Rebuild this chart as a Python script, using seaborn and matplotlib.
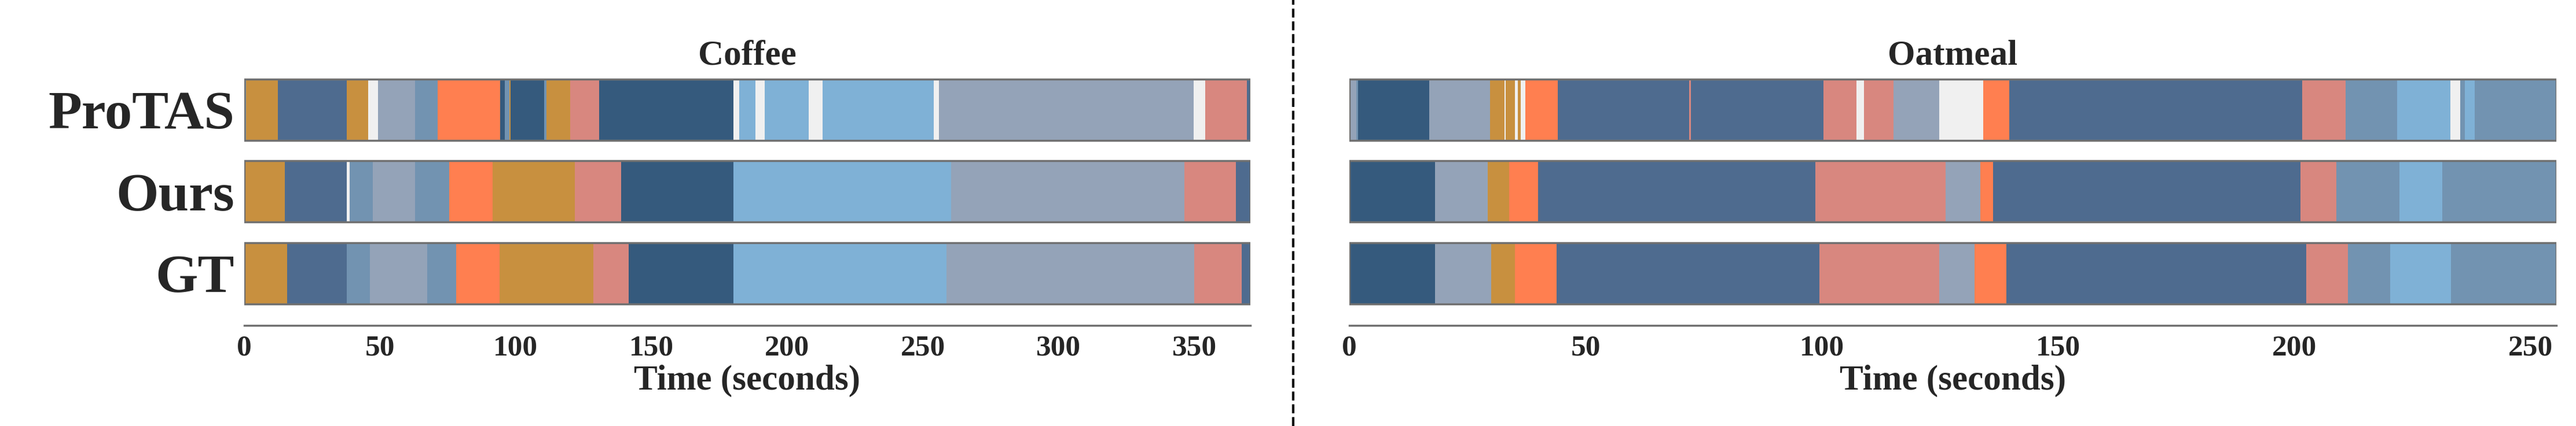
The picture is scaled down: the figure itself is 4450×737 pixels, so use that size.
import matplotlib
matplotlib.use('Agg')
import matplotlib.pyplot as plt
import seaborn as sns
from matplotlib.lines import Line2D

sns.set_style('white')
plt.rcParams['font.family'] = ['Liberation Serif', 'DejaVu Serif']
plt.rcParams['font.weight'] = 'bold'

# Action colours
palette = {
    'pour': '#c8903f', 'stir': '#4e6b8f', 'take': '#355a7d', 'open': '#7293b1',
    'scoop': '#94a3b8', 'add': '#ff7f50', 'put': '#d8877f', 'fold': '#7fb1d6',
    'bg': '#f0f0f0',
}

rows = ['ProTAS', 'Ours', 'GT']

# Coffee: segment end times (s) and action of each segment
coffee_protas_ends = [0.7, 12.3, 37.7, 45.6, 49.3, 62.9, 71.3, 94.3, 95.9, 97.7, 98.1, 110.5, 111.3, 120.0,
                      130.7, 180.3, 182.3, 188.2, 191.7, 207.9, 213.0, 253.9, 255.9, 349.7, 353.9, 369.4, 370.6]
coffee_protas_acts = ['open', 'pour', 'stir', 'pour', 'bg', 'scoop', 'open', 'add', 'take', 'open', 'pour', 'take', 'open', 'pour',
                      'put', 'take', 'bg', 'fold', 'bg', 'fold', 'bg', 'fold', 'bg', 'scoop', 'bg', 'put', 'stir']
coffee_ours_ends = [15.0, 37.7, 38.8, 47.3, 63.0, 75.5, 91.4, 121.8, 138.8, 180.3, 260.4, 346.2, 365.2, 370.6]
coffee_ours_acts = ['pour', 'stir', 'bg', 'open', 'scoop', 'open', 'add', 'pour', 'put', 'take', 'fold', 'scoop', 'put', 'stir']
coffee_gt_ends = [15.9, 37.7, 46.4, 67.4, 78.0, 94.1, 128.7, 141.5, 180.3, 258.6, 349.9, 367.5, 370.6]
coffee_gt_acts = ['pour', 'stir', 'open', 'scoop', 'open', 'add', 'pour', 'put', 'take', 'fold', 'scoop', 'put', 'stir']

# Oatmeal
oat_protas_ends = [1.5, 1.9, 16.9, 29.8, 32.9, 33.1, 35.1, 35.7, 36.3, 37.2, 44.1, 71.9, 72.3, 100.3, 107.3,
                   108.9, 115.2, 124.8, 134.2, 139.7, 201.7, 210.8, 221.7, 233.0, 235.1, 236.1, 238.1, 255.4]
oat_protas_acts = ['scoop', 'open', 'take', 'scoop', 'pour', 'bg', 'pour', 'bg', 'pour', 'bg', 'add', 'stir', 'put', 'stir', 'put',
                   'bg', 'put', 'scoop', 'bg', 'add', 'stir', 'put', 'open', 'fold', 'bg', 'open', 'fold', 'open']
oat_ours_ends = [18.2, 29.3, 33.8, 39.9, 98.6, 126.2, 133.6, 136.2, 201.3, 208.9, 222.2, 231.3, 255.4]
oat_ours_acts = ['take', 'scoop', 'pour', 'add', 'stir', 'put', 'scoop', 'add', 'stir', 'put', 'open', 'fold', 'open']
oat_gt_ends = [18.2, 30.0, 35.0, 43.9, 99.5, 124.9, 132.3, 139.0, 202.5, 211.3, 220.3, 233.1, 255.4]
oat_gt_acts = ['take', 'scoop', 'pour', 'add', 'stir', 'put', 'scoop', 'add', 'stir', 'put', 'open', 'fold', 'open']

panels = [
    ('Coffee', [(coffee_protas_ends, coffee_protas_acts), (coffee_ours_ends, coffee_ours_acts),
                (coffee_gt_ends, coffee_gt_acts)], [0, 50, 100, 150, 200, 250, 300, 350]),
    ('Oatmeal', [(oat_protas_ends, oat_protas_acts), (oat_ours_ends, oat_ours_acts),
                 (oat_gt_ends, oat_gt_acts)], [0, 50, 100, 150, 200, 250]),
]

fig = plt.figure(figsize=(44.5, 7.37), dpi=100)
axes = [fig.add_axes([0.0948, 0.236, 0.3906, 0.586]),
        fig.add_axes([0.5238, 0.236, 0.4685, 0.586])]

for ax, (title, segs, ticks) in zip(axes, panels):
    for i, (ends, acts) in enumerate(segs):
        starts = [0] + ends[:-1]
        widths = [e - s for s, e in zip(starts, ends)]
        ax.barh([i] * len(ends), widths, left=starts, height=0.75,
                color=[palette[a] for a in acts], edgecolor='none', linewidth=0)
        ax.barh(i, ends[-1], left=0, height=0.75, fill=False, edgecolor='#707070', linewidth=2.5)
    ax.set_xlim(0, segs[0][0][-1])
    ax.set_ylim(2.64, -0.415)
    ax.set_yticks(range(3))
    if ax is axes[0]:
        ax.set_yticklabels(rows, fontsize=68, fontweight='bold')
    else:
        ax.set_yticklabels([])
    ax.tick_params(axis='y', length=0, pad=12)
    ax.set_xticks(ticks)
    ax.tick_params(axis='x', labelsize=37, length=8, width=2, color='#707070', direction='out', pad=4)
    for lab in ax.get_xticklabels():
        lab.set_fontweight('bold')
    for s in ['top', 'left', 'right']:
        ax.spines[s].set_visible(False)
    ax.spines['bottom'].set_color('#707070')
    ax.spines['bottom'].set_linewidth(2.5)
    ax.set_title(title, fontsize=44, fontweight='bold', pad=14)
    ax.set_xlabel('Time (seconds)', fontsize=44, fontweight='bold', labelpad=4)

fig.add_artist(Line2D([0.502, 0.502], [0.0, 1.0], color='black', linestyle='--', linewidth=3))

fig.savefig('out.png', dpi=100)
